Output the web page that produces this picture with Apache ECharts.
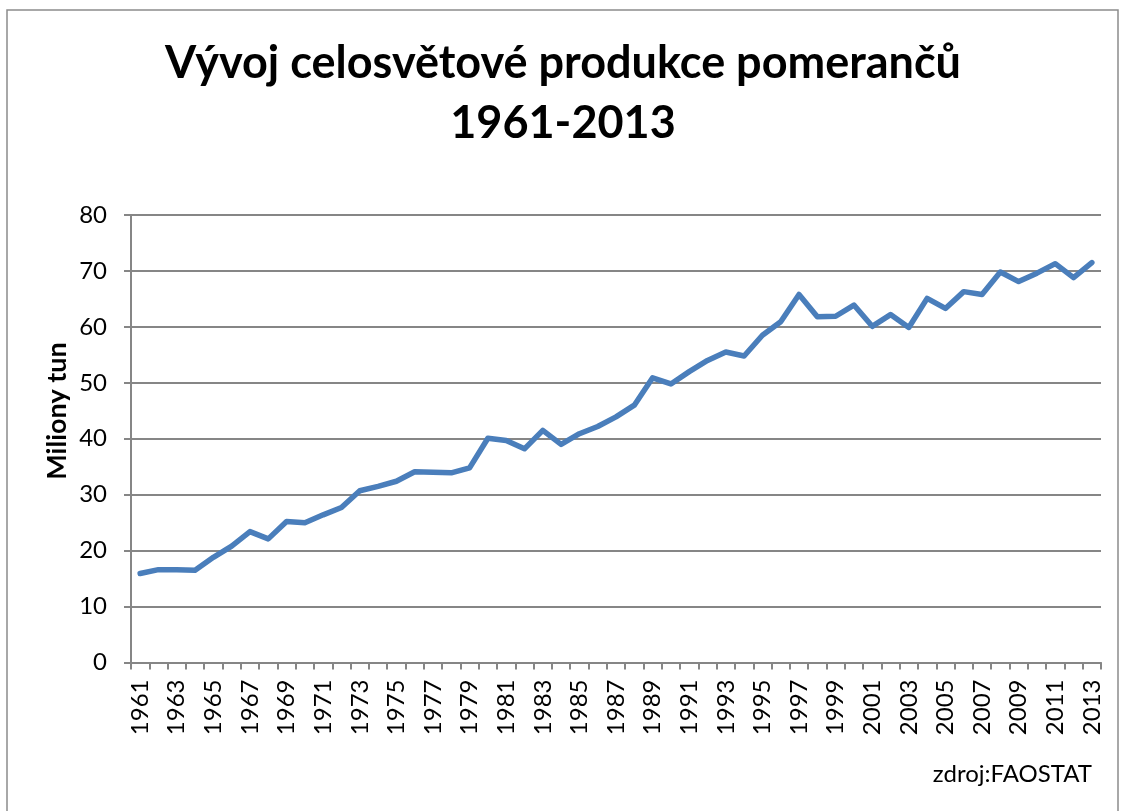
<!DOCTYPE html>
<html>
<head>
<meta charset="utf-8">
<script src="https://cdn.jsdelivr.net/npm/echarts@6/dist/echarts.min.js"></script>
<style>
  html, body { margin: 0; padding: 0; background: #fff; }
  #chart { width: 1126px; height: 811px; }
</style>
</head>
<body>
<div id="chart"></div>
<script>
const titleLines = ['Vývoj celosvětové produkce pomerančů', '1961-2013'];
const yAxisName = 'Miliony tun';
const sourceNote = 'zdroj:FAOSTAT';
const years = [];
for (let y = 1961; y <= 2013; y++) years.push(String(y));
const production = [
  15.9, 16.6, 16.6, 16.5, 18.8, 20.8, 23.4, 22.1, 25.2, 25.0,
  26.4, 27.7, 30.7, 31.5, 32.4, 34.1, 34.0, 33.9, 34.8, 40.1,
  39.7, 38.2, 41.5, 39.0, 40.9, 42.2, 43.9, 46.0, 50.9, 49.8,
  52.0, 54.0, 55.5, 54.8, 58.5, 60.9, 65.8, 61.8, 61.9, 63.9,
  60.1, 62.2, 59.9, 65.1, 63.3, 66.3, 65.8, 69.8, 68.1, 69.6,
  71.3, 68.8, 71.5
];
const yTicks = { min: 0, max: 80, interval: 10 };

const chart = echarts.init(document.getElementById('chart'), null, { renderer: 'canvas' });
const fontFamily = 'Lato, "Liberation Sans", sans-serif';
const axisGray = '#868686';

chart.setOption({
  backgroundColor: '#ffffff',
  animation: false,
  title: {
    text: titleLines.join('\n'),
    left: 'center',
    top: 28,
    textStyle: {
      fontFamily: fontFamily,
      fontWeight: 'bold',
      fontSize: 45,
      lineHeight: 60,
      color: '#000'
    }
  },
  graphic: [
    {
      type: 'rect',
      silent: true,
      shape: { x: 7, y: 10, width: 1111, height: 830 },
      style: { fill: 'none', stroke: '#8c8c8c', lineWidth: 1.5 },
      z: -1
    },
    {
      type: 'text',
      x: 57,
      y: 411,
      rotation: Math.PI / 2,
      style: {
        text: yAxisName,
        fontFamily: fontFamily,
        fontWeight: 'bold',
        fontSize: 27,
        fill: '#000',
        align: 'center',
        verticalAlign: 'middle'
      }
    },
    {
      type: 'text',
      right: 34,
      top: 762,
      style: {
        text: sourceNote,
        fontFamily: fontFamily,
        fontSize: 24,
        fill: '#000'
      }
    }
  ],
  grid: {
    left: 131,
    right: 25,
    top: 215,
    bottom: 148.5,
    containLabel: false
  },
  xAxis: {
    type: 'category',
    data: years,
    boundaryGap: true,
    axisLine: { show: true, lineStyle: { color: axisGray, width: 2 } },
    axisTick: { show: true, interval: 0, alignWithLabel: false, length: 7, lineStyle: { color: axisGray, width: 2 } },
    axisLabel: {
      interval: 1,
      rotate: 90,
      margin: 17,
      fontFamily: fontFamily,
      fontSize: 24,
      color: '#000'
    },
    splitLine: { show: false }
  },
  yAxis: {
    type: 'value',
    min: yTicks.min,
    max: yTicks.max,
    interval: yTicks.interval,
    axisLine: { show: true, lineStyle: { color: axisGray, width: 2 } },
    axisTick: { show: true, length: 7, lineStyle: { color: axisGray, width: 2 } },
    axisLabel: {
      margin: 24,
      fontFamily: fontFamily,
      fontSize: 24,
      color: '#000'
    },
    splitLine: { show: true, lineStyle: { color: axisGray, width: 2 } }
  },
  series: [{
    type: 'line',
    data: production,
    symbol: 'none',
    smooth: false,
    lineStyle: { color: '#4a7ebb', width: 5.5, cap: 'round', join: 'round' },
    itemStyle: { color: '#4a7ebb' }
  }]
});
</script>
</body>
</html>
